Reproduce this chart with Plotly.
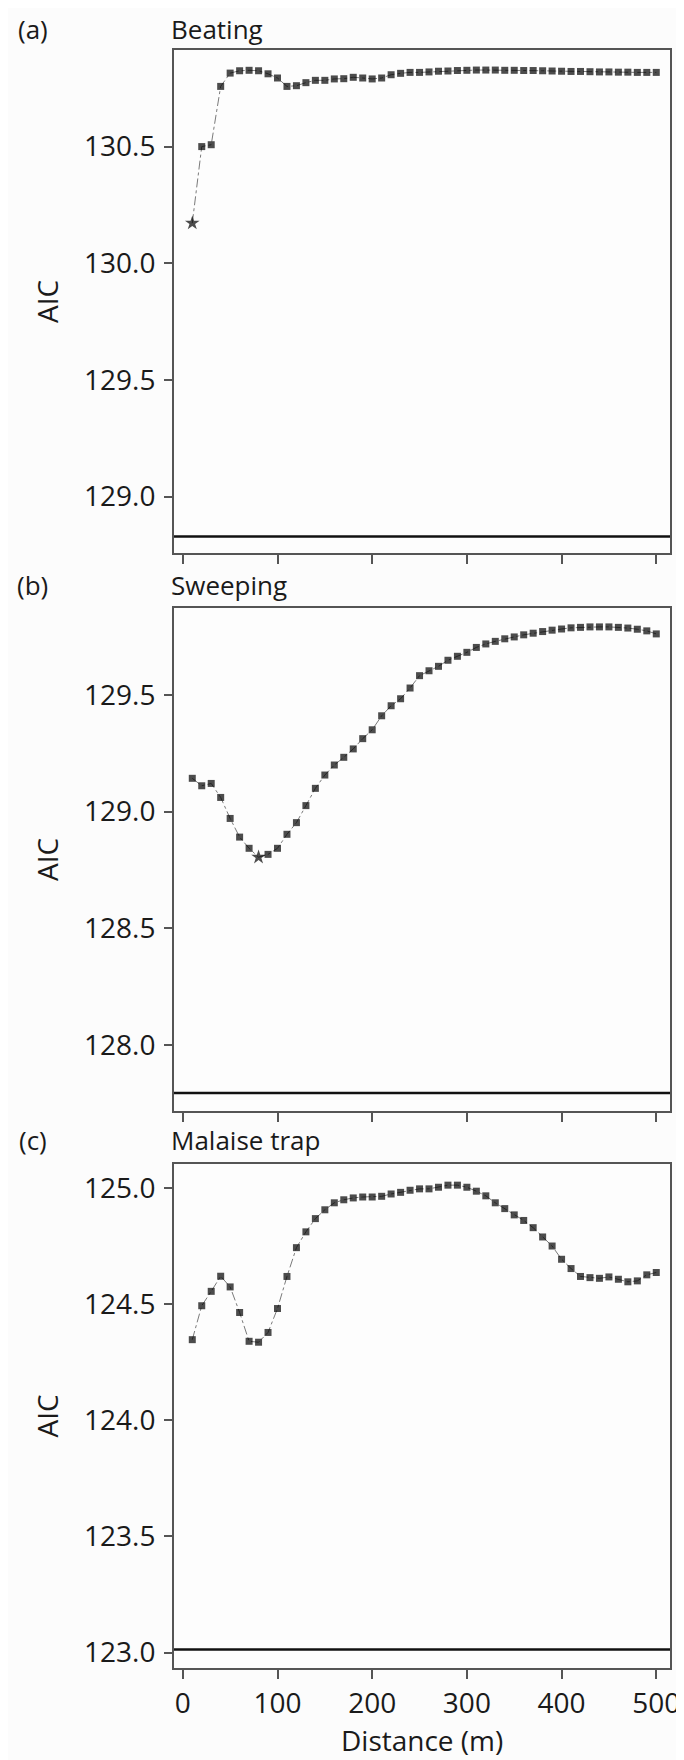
import plotly.graph_objects as go

# ---------------- data ----------------
distance = [10, 20, 30, 40, 50, 60, 70, 80, 90, 100,
            110, 120, 130, 140, 150, 160, 170, 180, 190, 200,
            210, 220, 230, 240, 250, 260, 270, 280, 290, 300,
            310, 320, 330, 340, 350, 360, 370, 380, 390, 400,
            410, 420, 430, 440, 450, 460, 470, 480, 490, 500]

beating = [130.172, 130.500, 130.508, 130.758, 130.815, 130.825, 130.827, 130.825, 130.812, 130.794,
           130.758, 130.761, 130.774, 130.784, 130.784, 130.790, 130.791, 130.797, 130.794, 130.790,
           130.794, 130.808, 130.814, 130.818, 130.818, 130.820, 130.823, 130.824, 130.826, 130.827,
           130.828, 130.828, 130.828, 130.827, 130.827, 130.826, 130.826, 130.825, 130.824, 130.823,
           130.822, 130.822, 130.821, 130.820, 130.820, 130.819, 130.819, 130.818, 130.818, 130.818]

sweeping = [129.143, 129.111, 129.121, 129.061, 128.971, 128.891, 128.843, 128.805, 128.817, 128.843,
            128.903, 128.953, 129.026, 129.100, 129.157, 129.200, 129.233, 129.269, 129.313, 129.351,
            129.411, 129.454, 129.484, 129.530, 129.583, 129.604, 129.623, 129.649, 129.666, 129.683,
            129.704, 129.719, 129.730, 129.741, 129.749, 129.758, 129.765, 129.772, 129.778, 129.783,
            129.788, 129.790, 129.792, 129.792, 129.792, 129.790, 129.787, 129.782, 129.775, 129.762]

malaise = [124.347, 124.493, 124.555, 124.620, 124.574, 124.464, 124.340, 124.336, 124.378, 124.481,
           124.619, 124.743, 124.811, 124.868, 124.906, 124.936, 124.949, 124.957, 124.961, 124.961,
           124.964, 124.974, 124.981, 124.990, 124.996, 124.996, 125.003, 125.012, 125.012, 125.003,
           124.986, 124.966, 124.936, 124.911, 124.884, 124.860, 124.829, 124.789, 124.750, 124.693,
           124.653, 124.619, 124.614, 124.611, 124.617, 124.607, 124.596, 124.600, 124.626, 124.636]

# index of the starred (best) point in each panel; None = no star
star_index = [0, 7, None]

# reference (horizontal line) AIC values
reference_aic = [128.829, 127.794, 123.014]

panel_letters = ["(a)", "(b)", "(c)"]
panel_titles = ["Beating", "Sweeping", "Malaise trap"]
y_ticks = [[129.0, 129.5, 130.0, 130.5],
           [128.0, 128.5, 129.0, 129.5],
           [123.0, 123.5, 124.0, 124.5, 125.0]]
y_tick_text = [["129.0", "129.5", "130.0", "130.5"],
               ["128.0", "128.5", "129.0", "129.5"],
               ["123.0", "123.5", "124.0", "124.5", "125.0"]]
y_ranges = [[128.758, 130.914], [127.717, 129.873], [122.934, 125.103]]
x_ticks = [0, 100, 200, 300, 400, 500]
x_range = [-9.3, 514.5]
x_title = "Distance (m)"
y_title = "AIC"

# ---------------- layout geometry ----------------
W, H = 684, 1760
ML, MR, MT, MB = 166, 12, 42, 100
PW = W - ML - MR
PH = H - MT - MB
panels_px = [(42, 545), (600, 1103), (1156, 1660)]  # top, bottom in px

def py(ypx):
    return (H - MB - ypx) / PH

def px(xpx):
    return (xpx - ML) / PW

FONT = "Open Sans"
TXT = "#1a1a1a"
AX = "#555555"
TICK_SIZE = 28
TITLE_SIZE = 26

series = [beating, sweeping, malaise]
fig = go.Figure()

for i, vals in enumerate(series):
    xa = "x" if i == 0 else f"x{i+1}"
    ya = "y" if i == 0 else f"y{i+1}"
    symbols = ["square"] * len(vals)
    sizes = [7] * len(vals)
    if star_index[i] is not None:
        symbols[star_index[i]] = "star"
        sizes[star_index[i]] = 11
    fig.add_trace(go.Scatter(
        x=distance, y=vals, xaxis=xa, yaxis=ya, mode="lines+markers",
        line=dict(color="#7a7a7a", width=1, dash="dashdot"),
        marker=dict(symbol=symbols, size=sizes, color="#000000", line=dict(width=0)),
        showlegend=False, hoverinfo="x+y"))
    fig.add_shape(type="line", xref=f"{xa} domain", yref=ya, x0=0, x1=1,
                  y0=reference_aic[i], y1=reference_aic[i],
                  line=dict(color="#111111", width=2.5))

layout = dict(width=W, height=H,
              margin=dict(l=ML, r=MR, t=MT, b=MB),
              paper_bgcolor="#fcfcfc", plot_bgcolor="#fdfdfd",
              font=dict(family=FONT, size=TICK_SIZE, color=TXT),
              showlegend=False)

for i in range(3):
    top, bot = panels_px[i]
    xk = "xaxis" if i == 0 else f"xaxis{i+1}"
    yk = "yaxis" if i == 0 else f"yaxis{i+1}"
    ya = "y" if i == 0 else f"y{i+1}"
    xa = "x" if i == 0 else f"x{i+1}"
    layout[xk] = dict(domain=[0, 1], anchor=ya, range=x_range,
                      tickvals=x_ticks, ticktext=[str(v) for v in x_ticks],
                      showticklabels=(i == 2), ticks="outside", ticklen=9,
                      tickwidth=1.5, tickcolor=AX, showline=True, linecolor=AX,
                      linewidth=1.8, mirror=True, showgrid=False, zeroline=False,
                      tickfont=dict(family=FONT, size=TICK_SIZE, color=TXT))
    layout[yk] = dict(domain=[py(bot), py(top)], anchor=xa, range=y_ranges[i],
                      tickvals=y_ticks[i], ticktext=y_tick_text[i],
                      ticks="outside", ticklen=8, tickwidth=1.5, tickcolor=AX,
                      showline=True, linecolor=AX, linewidth=1.8, mirror=True,
                      showgrid=False, zeroline=False, ticklabelstandoff=3,
                      tickfont=dict(family=FONT, size=TICK_SIZE, color=TXT))

fig.update_layout(**layout)

annotations = []
title_y = [21, 577, 1132]
for i in range(3):
    top, bot = panels_px[i]
    annotations.append(dict(text=panel_letters[i], xref="paper", yref="paper",
                            x=px(22), y=py(title_y[i]), xanchor="center", yanchor="middle",
                            showarrow=False, font=dict(family=FONT, size=TITLE_SIZE, color=TXT)))
    annotations.append(dict(text=panel_titles[i], xref="paper", yref="paper",
                            x=px(161), y=py(title_y[i]), xanchor="left", yanchor="middle",
                            showarrow=False, font=dict(family=FONT, size=TITLE_SIZE, color=TXT)))
    annotations.append(dict(text=y_title, xref="paper", yref="paper",
                            x=px(36), y=py((top + bot) / 2), xanchor="center", yanchor="middle",
                            textangle=-90, showarrow=False,
                            font=dict(family=FONT, size=TICK_SIZE, color=TXT)))
annotations.append(dict(text=x_title, xref="paper", yref="paper",
                        x=px(419), y=py(1732), xanchor="center", yanchor="middle",
                        showarrow=False, font=dict(family=FONT, size=TICK_SIZE, color=TXT)))
fig.update_layout(annotations=annotations)

fig.write_html("out.html")
